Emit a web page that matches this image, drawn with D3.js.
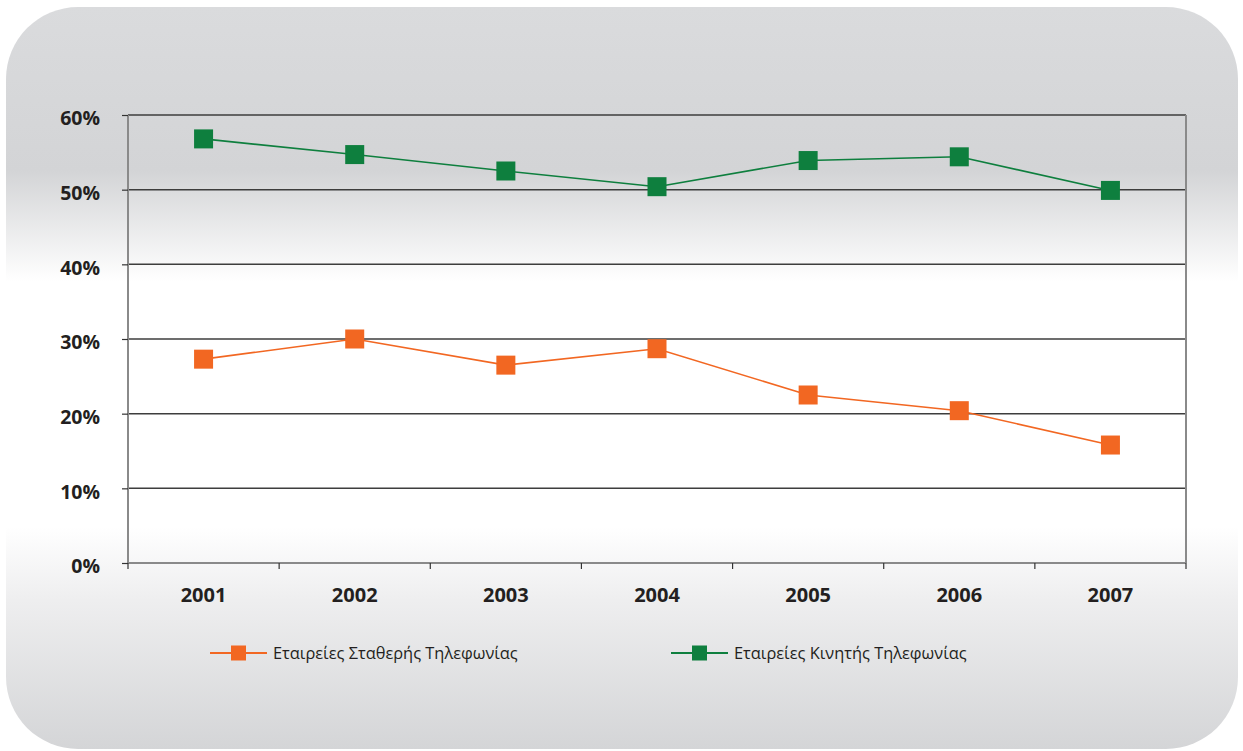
<!DOCTYPE html>
<html>
<head>
<meta charset="utf-8">
<script src="https://cdn.jsdelivr.net/npm/d3@7"></script>
<style>
  html, body { margin: 0; padding: 0; background: #fff; }
  svg { display: block; }
</style>
</head>
<body>
<svg id="chart" width="1243" height="751"></svg>
<script>
const years = ['2001', '2002', '2003', '2004', '2005', '2006', '2007']
const fixedLine = [27.3, 30.0, 26.5, 28.7, 22.5, 20.4, 15.8]
const mobile = [56.8, 54.7, 52.5, 50.4, 53.9, 54.4, 49.9]
const yTicks = [0, 10, 20, 30, 40, 50, 60]
const seriesNames = ['Εταιρείες Σταθερής Τηλεφωνίας', 'Εταιρείες Κινητής Τηλεφωνίας']
const seriesColors = ['#f26722', '#0e7f3e']

const svg = d3.select('#chart')
const font = '"Open Sans", "Noto Sans", sans-serif'

// background panel with vertical gradient
const defs = svg.append('defs')
const grad = defs.append('linearGradient')
  .attr('id', 'bg')
  .attr('x1', 0).attr('y1', 0).attr('x2', 0).attr('y2', 1)
const stops = [
  [0, '#dadbdd'], [0.22, '#d3d4d6'], [0.37, '#ffffff'],
  [0.7, '#ffffff'], [0.8, '#eeeeef'], [1, '#d4d5d7']
]
grad.selectAll('stop').data(stops).join('stop')
  .attr('offset', d => d[0])
  .attr('stop-color', d => d[1])

svg.append('rect')
  .attr('x', 6).attr('y', 7)
  .attr('width', 1232).attr('height', 742)
  .attr('rx', 72).attr('ry', 72)
  .attr('fill', 'url(#bg)')

const plotLeft = 128
const plotRight = 1186
const plotTop = 115
const plotBottom = 563

const x = d3.scaleBand().domain(years).range([plotLeft, plotRight])
const y = d3.scaleLinear().domain([0, 60]).range([plotBottom, plotTop])

// gridlines
svg.append('g')
  .selectAll('line')
  .data(yTicks.filter(d => d > 0))
  .join('line')
  .attr('x1', plotLeft).attr('x2', plotRight)
  .attr('y1', d => y(d)).attr('y2', d => y(d))
  .attr('stroke', '#3d3d3d')
  .attr('stroke-width', 1.5)

// frame: left, right, bottom
svg.append('line')
  .attr('x1', plotLeft).attr('x2', plotLeft).attr('y1', plotTop).attr('y2', plotBottom)
  .attr('stroke', '#8a8a8a').attr('stroke-width', 2)
svg.append('line')
  .attr('x1', plotRight).attr('x2', plotRight).attr('y1', plotTop).attr('y2', plotBottom)
  .attr('stroke', '#8a8a8a').attr('stroke-width', 2)
svg.append('line')
  .attr('x1', plotLeft).attr('x2', plotRight).attr('y1', plotBottom).attr('y2', plotBottom)
  .attr('stroke', '#8a8a8a').attr('stroke-width', 2)

// y axis
const yAxis = svg.append('g')
  .attr('transform', `translate(${plotLeft},0)`)
  .call(d3.axisLeft(y).tickValues(yTicks).tickFormat(d => d + '%').tickSize(6).tickPadding(22))
yAxis.select('.domain').remove()
yAxis.selectAll('.tick line').attr('stroke', '#333').attr('stroke-width', 1.2)
yAxis.selectAll('.tick text')
  .attr('dy', '0.5em')
  .style('font-family', font)
  .style('font-size', '19.5px')
  .style('font-weight', 'bold')
  .style('fill', '#231f20')

// x axis: ticks at category boundaries
const bounds = years.map(d => x(d)).concat([plotRight])
svg.append('g')
  .selectAll('line')
  .data(bounds)
  .join('line')
  .attr('x1', d => d).attr('x2', d => d)
  .attr('y1', plotBottom).attr('y2', plotBottom + 6)
  .attr('stroke', '#333').attr('stroke-width', 1.2)

svg.append('g')
  .selectAll('text')
  .data(years)
  .join('text')
  .attr('x', d => x(d) + x.bandwidth() / 2)
  .attr('y', 602)
  .attr('text-anchor', 'middle')
  .style('font-family', font)
  .style('font-size', '20px')
  .style('font-weight', 'bold')
  .style('fill', '#231f20')
  .text(d => d)

// series
const line = d3.line()
  .x((d, i) => x(years[i]) + x.bandwidth() / 2)
  .y(d => y(d))

const series = [fixedLine, mobile]
const ms = 19
series.forEach((values, k) => {
  const g = svg.append('g')
  g.append('path')
    .datum(values)
    .attr('d', line)
    .attr('fill', 'none')
    .attr('stroke', seriesColors[k])
    .attr('stroke-width', 1.6)
  g.selectAll('rect')
    .data(values)
    .join('rect')
    .attr('x', (d, i) => x(years[i]) + x.bandwidth() / 2 - ms / 2)
    .attr('y', d => y(d) - ms / 2)
    .attr('width', ms).attr('height', ms)
    .attr('fill', seriesColors[k])
})

// legend
const legendX = [210, 671]
const legendY = 653
seriesNames.forEach((name, k) => {
  const g = svg.append('g').attr('transform', `translate(${legendX[k]},${legendY})`)
  g.append('line')
    .attr('x1', 0).attr('x2', 57).attr('y1', 0).attr('y2', 0)
    .attr('stroke', seriesColors[k]).attr('stroke-width', 2)
  g.append('rect')
    .attr('x', 28.5 - 7.5).attr('y', -7.5)
    .attr('width', 15).attr('height', 15)
    .attr('fill', seriesColors[k])
  g.append('text')
    .attr('x', 63).attr('y', 6)
    .style('font-family', font)
    .style('font-size', '16.4px')
    .style('fill', '#231f20')
    .text(name)
})
</script>
</body>
</html>
